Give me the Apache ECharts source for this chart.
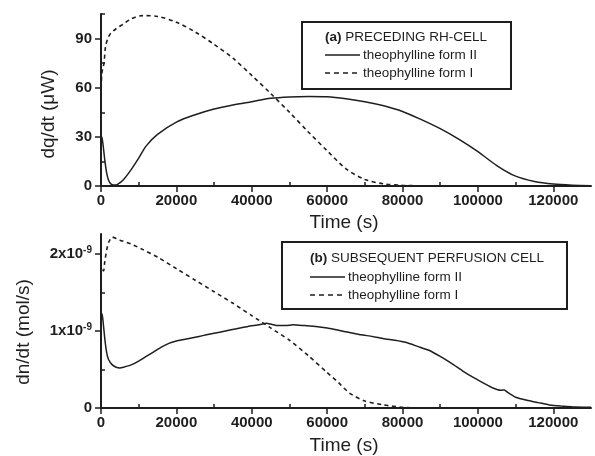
<!DOCTYPE html>
<html><head><meta charset="utf-8">
<script src="https://cdn.jsdelivr.net/npm/echarts@6/dist/echarts.min.js"></script>
<style>html,body{margin:0;padding:0;background:#fff}#c{width:595px;height:456px}</style>
</head><body><div id="c"></div>
<script>
// ---- data (time in s) ----
// (a) preceding RH-cell, dq/dt in microwatts
const timeA_II = [0,200,500,1000,1500,2000,2500,3000,3500,4500,6000,8000,10000,12000,15000,20000,25000,30000,35000,40000,45000,50000,55000,60000,65000,70000,75000,80000,85000,90000,95000,100000,105000,110000,115000,120000,125000,130000];
const dqA_II   = [28,30,26,16,8,3.5,1.5,0.8,0.6,1.2,4,10,17,24.5,31.5,39,43.5,47,49.5,51.5,53.5,54.4,54.7,54.5,53.3,51.5,49,45.5,40.5,35,28.5,21,12.5,6,2.8,1.2,0.5,0.2];
const timeA_I  = [0,200,500,800,1200,1800,2500,4000,6000,8000,11000,15000,20000,25000,30000,35000,40000,45000,50000,55000,60000,65000,70000,75000,80000,85000,90000,130000];
const dqA_I    = [55,68,72,75,85,90,93,96,99,102,104,103.5,100,94,86.5,78,67.5,56.5,45,33,21.5,10.5,4,1.3,0.4,0.1,0,0];
// (b) subsequent perfusion cell, dn/dt in units of 1e-9 mol/s
const timeB_II = [0,200,500,1000,1500,2000,3000,4000,5000,6000,8000,10000,12000,14000,16000,18000,20000,22000,24000,26000,28000,30000,33000,36000,39000,42000,44000,45000,47000,49000,51000,54000,57000,60000,63000,66000,69000,72000,75000,78000,81000,84000,87000,90000,93000,96000,99000,102000,104000,106000,107000,108000,110000,113000,116000,119000,122000,125000,128000,130000];
const dnB_II   = [1.1,1.23,1.15,0.9,0.72,0.63,0.56,0.53,0.52,0.53,0.56,0.61,0.67,0.73,0.79,0.84,0.87,0.89,0.91,0.93,0.95,0.97,1.0,1.03,1.06,1.08,1.1,1.09,1.07,1.07,1.08,1.07,1.06,1.04,1.01,0.98,0.95,0.93,0.9,0.88,0.85,0.8,0.75,0.67,0.58,0.48,0.39,0.31,0.26,0.23,0.235,0.2,0.14,0.1,0.07,0.04,0.025,0.015,0.01,0.01];
const timeB_I  = [0,300,700,1000,1500,2000,3000,5000,8000,11000,15000,20000,25000,30000,35000,40000,45000,50000,55000,60000,63000,66000,70000,75000,80000,85000,130000];
const dnB_I    = [1.75,1.82,1.78,1.9,2.05,2.15,2.22,2.18,2.13,2.06,1.96,1.81,1.66,1.51,1.36,1.2,1.04,0.88,0.68,0.46,0.33,0.19,0.09,0.04,0.01,0,0];
// ticks
const xMajor = [0,20000,40000,60000,80000,100000,120000];
const xMinor = [10000,30000,50000,70000,90000,110000];
const yMajorA = [0,30,60,90];
const yMinorA = [15,45,75,105];
const yMajorB = [0,1,2];
const yMinorB = [0.5,1.5];

const pair = (t, v) => t.map((x, i) => [x, v[i]]);
const INK = '#1e1e1e';
const FONT = 'Liberation Sans, Arial, sans-serif';

function xAxes(gi) {
  return [{
    type: 'value', gridIndex: gi, min: 0, max: 130000,
    axisLine: {lineStyle: {color: INK, width: 2}},
    axisTick: {customValues: xMajor, length: 6, lineStyle: {color: INK, width: 1.5}},
    axisLabel: {customValues: xMajor, color: INK, fontFamily: FONT, fontSize: 15, fontWeight: 'bold', margin: 7, formatter: v => String(v)},
    splitLine: {show: false}
  }, {
    type: 'value', gridIndex: gi, min: 0, max: 130000,
    axisLine: {show: false},
    axisTick: {customValues: xMinor, length: 4, lineStyle: {color: INK, width: 1.5}},
    axisLabel: {show: false}, splitLine: {show: false}
  }];
}
function yAxes(gi, max, major, minor, fmt, rich) {
  return [{
    type: 'value', gridIndex: gi, min: 0, max: max,
    axisLine: {show: true, lineStyle: {color: INK, width: 2}},
    axisTick: {show: true, customValues: major, length: 6, lineStyle: {color: INK, width: 1.5}},
    axisLabel: {customValues: major, color: INK, fontFamily: FONT, fontSize: 15, fontWeight: 'bold', margin: 9, formatter: fmt, rich: rich},
    splitLine: {show: false}
  }, {
    type: 'value', gridIndex: gi, min: 0, max: max,
    axisLine: {show: false},
    axisTick: {show: true, customValues: minor, length: 4, lineStyle: {color: INK, width: 1.5}},
    axisLabel: {show: false}, splitLine: {show: false}
  }];
}

const chart = echarts.init(document.getElementById('c'), null, {renderer: 'canvas'});
const lineBase = {type: 'line', showSymbol: false, symbol: 'none', animation: false};

function legendBox(x, y, w, h, title, tag, lx1, lx2, tx, y1, y2, y3) {
  return {
    type: 'group', children: [
      {type: 'rect', shape: {x: x, y: y, width: w, height: h}, style: {fill: '#fff', stroke: INK, lineWidth: 2}, z: 100},
      {type: 'text', x: lx1, y: y1, style: {text: '{b|' + tag + '} ' + title, fill: INK, font: '13.5px ' + FONT, verticalAlign: 'middle', rich: {b: {fontWeight: 'bold', fontSize: 13.5, fontFamily: FONT, fill: INK}}}, z: 101},
      {type: 'line', shape: {x1: lx1, y1: y2, x2: lx2, y2: y2}, style: {stroke: INK, lineWidth: 1.5}, z: 101},
      {type: 'text', x: tx, y: y2, style: {text: 'theophylline form II', fill: INK, font: '13.5px ' + FONT, verticalAlign: 'middle'}, z: 101},
      {type: 'line', shape: {x1: lx1, y1: y3, x2: lx2, y2: y3}, style: {stroke: INK, lineWidth: 1.5, lineDash: [5, 4]}, z: 101},
      {type: 'text', x: tx, y: y3, style: {text: 'theophylline form I', fill: INK, font: '13.5px ' + FONT, verticalAlign: 'middle'}, z: 101}
    ]
  };
}

chart.setOption({
  backgroundColor: '#fff',
  animation: false,
  grid: [
    {left: 101, top: 14, width: 490, height: 172},
    {left: 101, top: 234, width: 490, height: 174}
  ],
  xAxis: [...xAxes(0), ...xAxes(1)],
  yAxis: [
    ...yAxes(0, 105, yMajorA, yMinorA, v => String(v)),
    ...yAxes(1, 2.26, yMajorB, yMinorB,
      v => v === 0 ? '0' : '{m|' + v + 'x10}{e|-9}',
      {m: {fontSize: 15, fontWeight: 'bold', fontFamily: FONT, color: INK, lineHeight: 18},
       e: {fontSize: 10, fontWeight: 'bold', fontFamily: FONT, color: INK, lineHeight: 10, verticalAlign: 'top'}})
  ],
  series: [
    {...lineBase, name: 'theophylline form II', xAxisIndex: 0, yAxisIndex: 0, data: pair(timeA_II, dqA_II), smooth: 0.3, lineStyle: {color: INK, width: 1.5}},
    {...lineBase, name: 'theophylline form I', xAxisIndex: 0, yAxisIndex: 0, data: pair(timeA_I, dqA_I), smooth: 0.3, lineStyle: {color: INK, width: 1.6, type: [4, 3.5]}},
    {...lineBase, name: 'theophylline form II (b)', xAxisIndex: 2, yAxisIndex: 2, data: pair(timeB_II, dnB_II), smooth: 0.15, lineStyle: {color: INK, width: 1.5}},
    {...lineBase, name: 'theophylline form I (b)', xAxisIndex: 2, yAxisIndex: 2, data: pair(timeB_I, dnB_I), smooth: 0.2, lineStyle: {color: INK, width: 1.6, type: [4, 3.5]}}
  ],
  graphic: [
    {type: 'text', x: 49, y: 114, rotation: Math.PI / 2, style: {text: 'dq/dt (\u03bcW)', fill: INK, font: '19px ' + FONT, align: 'center', verticalAlign: 'middle'}},
    {type: 'text', x: 24, y: 332, rotation: Math.PI / 2, style: {text: 'dn/dt (mol/s)', fill: INK, font: '19px ' + FONT, align: 'center', verticalAlign: 'middle'}},
    {type: 'text', x: 344, y: 223, style: {text: 'Time (s)', fill: INK, font: '19px ' + FONT, align: 'center', verticalAlign: 'middle'}},
    {type: 'text', x: 344, y: 446, style: {text: 'Time (s)', fill: INK, font: '19px ' + FONT, align: 'center', verticalAlign: 'middle'}},
    legendBox(302, 22, 209, 67, 'PRECEDING RH-CELL', '(a)', 325, 360, 363, 37, 55, 73),
    legendBox(282, 242, 285, 67, 'SUBSEQUENT PERFUSION CELL', '(b)', 310, 345, 348, 258, 277, 295)
  ]
});
</script></body></html>
